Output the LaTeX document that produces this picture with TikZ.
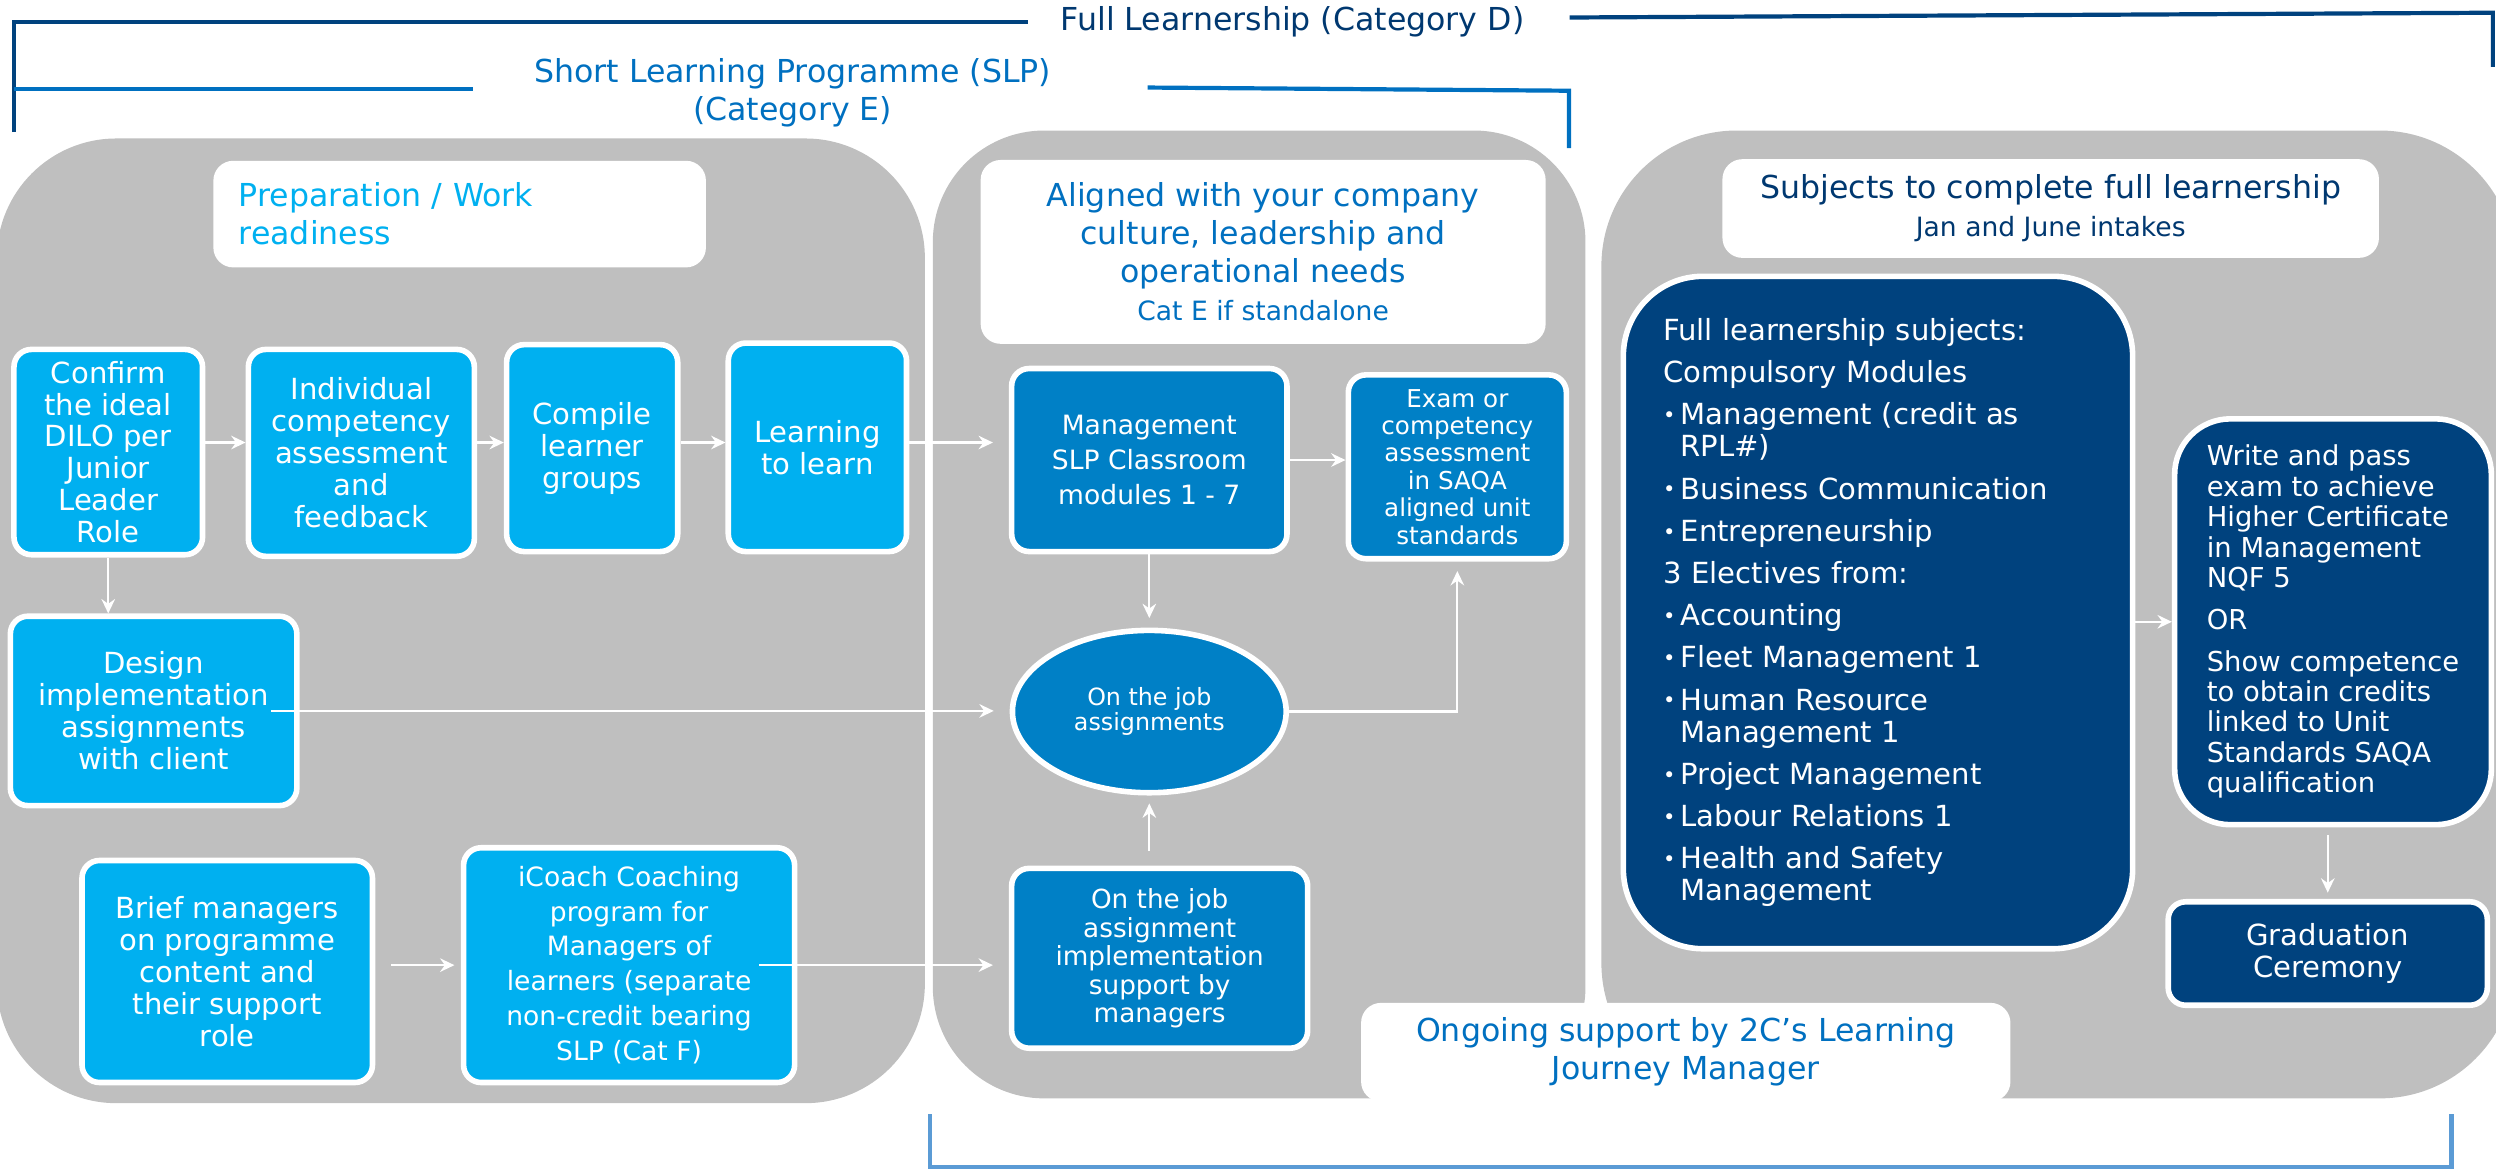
\documentclass[tikz,border=0pt]{standalone}
\usepackage{fontspec}
\setmainfont{DejaVu Sans}
\usetikzlibrary{arrows.meta, positioning, shapes.geometric}

\definecolor{cyanfill}{RGB}{0,176,240}
\definecolor{midfill}{RGB}{0,128,198}
\definecolor{navyfill}{RGB}{0,66,126}
\definecolor{panelgray}{RGB}{191,191,191}
\definecolor{slpblue}{RGB}{0,112,192}
\definecolor{navytext}{RGB}{0,56,112}
\definecolor{lightline}{RGB}{91,155,213}

\newcommand{\subjbullet}{\makebox[0.22cm][l]{\raisebox{0.8pt}{\fontsize{7.5}{7.5}\selectfont •}}}
\newcommand{\subjindent}{\hspace*{0.22cm}}

\begin{document}
\begin{tikzpicture}[
    x=0.02cm, y=-0.02cm,
    font=\fontsize{10.4}{11.4}\selectfont,
    panel/.style={fill=panelgray, rounded corners=1.5cm},
    cbox/.style={draw=white, line width=2pt, rounded corners=0.22cm, align=center, text=white, inner sep=1pt},
    prepbox/.style={cbox, fill=cyanfill},
    slpbox/.style={cbox, fill=midfill},
    fullbox/.style={cbox, fill=navyfill},
    titlebox/.style={fill=white, rounded corners=0.25cm, align=center, font=\fontsize{11.3}{13.6}\selectfont},
    arrow/.style={draw=white, line width=0.8pt, -{Stealth[length=1.8mm, width=1.7mm, inset=0.6mm]}},
    brace/.style={line width=1.5pt}
]
\useasboundingbox (0,0) rectangle (1568,736);

% grey panels
\fill[panel] (-2,87) rectangle (581,693);
\fill[panel, rounded corners=1.4cm] (586,82) rectangle (996,690);
\fill[panel, rounded corners=1.7cm] (1006,82) rectangle (1580,690);

% category brackets
\node[text=navytext, font=\fontsize{11.3}{13.6}\selectfont] (fulltitle) at (812,14) {Full Learnership (Category D)};
\node[text=slpblue, font=\fontsize{11.3}{13.6}\selectfont, align=center] (slptitle) at (498,58) {Short Learning Programme (SLP)\\(Category E)};
\draw[brace, draw=navyfill] (9,83) -- (9,14) -- (646,14);
\draw[brace, draw=navyfill] (986,11) -- (1566,8) -- (1566,42);
\draw[brace, draw=slpblue] (9,56) -- (297,56);
\draw[brace, draw=slpblue] (721,55) -- (985.6,57) -- (985.6,93);
\draw[brace, draw=lightline] (584,700) -- (584,733) -- (1540,733) -- (1540,700);

% preparation
\node[titlebox, text=cyanfill, align=left, text width=5.55cm, minimum width=6.19cm, minimum height=1.34cm, inner xsep=0.32cm] (preptitle) at (288.75,134.5) {Preparation / Work\\readiness};
\node[prepbox, minimum width=2.37cm, minimum height=2.58cm] (confirm) at (68,284) {Confirm\\the ideal\\DILO per\\Junior\\Leader\\Role};
\node[prepbox, minimum width=2.84cm, minimum height=2.6cm] (assess) at (227,284.5) {Individual\\competency\\assessment\\and\\feedback};
\node[prepbox, minimum width=2.15cm, minimum height=2.6cm] (groups) at (372,281.5) {Compile\\learner\\groups};
\node[prepbox, minimum width=2.24cm, minimum height=2.62cm] (learn) at (513.5,281) {Learning\\to learn};
\node[prepbox, minimum width=3.6cm, minimum height=2.38cm] (design) at (96.5,446.6) {Design\\implementation\\assignments\\with client};
\node[prepbox, minimum width=3.65cm, minimum height=2.79cm] (brief) at (142.75,610.3) {Brief managers\\on programme\\content and\\their support\\role};
\node[prepbox, minimum width=4.16cm, minimum height=2.95cm, font=\fontsize{9.5}{12.5}\selectfont] (icoach) at (395.2,606.3) {iCoach Coaching\\program for\\Managers of\\learners (separate\\non-credit bearing\\SLP (Cat F)};

% short learning programme
\node[titlebox, text=slpblue, minimum width=7.1cm, minimum height=2.31cm] (aligntitle) at (793.5,158.25) {Aligned with your company\\culture, leadership and\\operational needs\\{\fontsize{9.5}{11}\selectfont Cat E if standalone}};
\node[slpbox, font=\fontsize{9.5}{12.5}\selectfont, minimum width=3.46cm, minimum height=2.3cm] (classroom) at (722,289) {Management\\SLP Classroom\\modules 1 - 7};
\node[slpbox, font=\fontsize{8.8}{9.8}\selectfont, minimum width=2.74cm, minimum height=2.31cm] (exam) at (915.5,293.25) {Exam or\\competency\\assessment\\in SAQA\\aligned unit\\standards};
\node[slpbox, ellipse, font=\fontsize{8.5}{9}\selectfont, minimum width=3.44cm, minimum height=2.04cm] (onjob) at (722,447) {On the job\\assignments};
\node[slpbox, font=\fontsize{9.4}{10.2}\selectfont, minimum width=3.72cm, minimum height=2.26cm] (support) at (728.5,602) {On the job\\assignment\\implementation\\support by\\managers};

% full learnership
\node[titlebox, text=navytext, minimum width=8.25cm, minimum height=1.24cm] (subjtitle) at (1288.25,131) {Subjects to complete full learnership\\{\fontsize{9.5}{11}\selectfont Jan and June intakes}};
\node[fullbox, rounded corners=1cm, align=left, text width=5.4cm, inner xsep=0.5cm, minimum width=6.37cm, minimum height=8.45cm] (subjects) at (1179.75,384.8) {Full learnership subjects:\\[3.7pt]
Compulsory Modules\\[3.7pt]
\subjbullet Management (credit as\\
\subjindent RPL\#)\\[3.7pt]
\subjbullet Business Communication\\[3.7pt]
\subjbullet Entrepreneurship\\[3.7pt]
3 Electives from:\\[3.7pt]
\subjbullet Accounting\\[3.7pt]
\subjbullet Fleet Management 1\\[3.7pt]
\subjbullet Human Resource\\
\subjindent Management 1\\[3.7pt]
\subjbullet Project Management\\[3.7pt]
\subjbullet Labour Relations 1\\[3.7pt]
\subjbullet Health and Safety\\
\subjindent Management};
\node[fullbox, rounded corners=0.7cm, align=left, font=\fontsize{9.8}{10.9}\selectfont, minimum width=3.98cm, minimum height=5.1cm] (exitexam) at (1465.6,390.6) {Write and pass\\exam to achieve\\Higher Certificate\\in Management\\NQF 5\\[4pt]OR\\[4pt]Show competence\\to obtain credits\\linked to Unit\\Standards SAQA\\qualification};
\node[fullbox, minimum width=4.01cm, minimum height=1.3cm] (graduation) at (1462.3,599) {Graduation\\Ceremony};

\node[titlebox, text=slpblue, minimum width=8.16cm, minimum height=1.24cm] (ongoing) at (1059,661) {Ongoing support by 2C’s Learning\\Journey Manager};

% flow
\coordinate (row) at (0,278);
\draw[arrow] (confirm.east |- row) -- (assess.west |- row);
\draw[arrow] (assess.east |- row) -- (groups.west |- row);
\draw[arrow] (groups.east |- row) -- (learn.west |- row);
\draw[arrow, shorten >=0.2cm] (learn.east |- row) -- (classroom.west |- row);
\draw[arrow] (confirm.south) -- (confirm.south |- design.north);
\draw[arrow, shorten >=0.2cm] ([xshift=-0.36cm]design.east) -- (design.east -| onjob.west);
\draw[arrow, shorten <=0.2cm, shorten >=0.08cm] (brief.east |- icoach.west) -- (icoach.west);
\draw[arrow, shorten >=0.2cm] ([xshift=-0.48cm]icoach.east) -- (icoach.east -| support.west);
\draw[arrow] (classroom.east) -- (classroom.east -| exam.west);
\draw[arrow, shorten >=0.12cm] (classroom.south) -- (onjob.north);
\draw[arrow, shorten >=0.12cm] (onjob.east) -| (exam.south);
\draw[arrow, shorten <=0.18cm, shorten >=0.1cm] (support.north -| onjob.south) -- (onjob.south);
\draw[arrow] (subjects.east |- exitexam.west) -- (exitexam.west);
\draw[arrow, shorten <=0.1cm, shorten >=0.08cm] (exitexam.south -| graduation.north) -- (graduation.north);

\end{tikzpicture}
\end{document}
